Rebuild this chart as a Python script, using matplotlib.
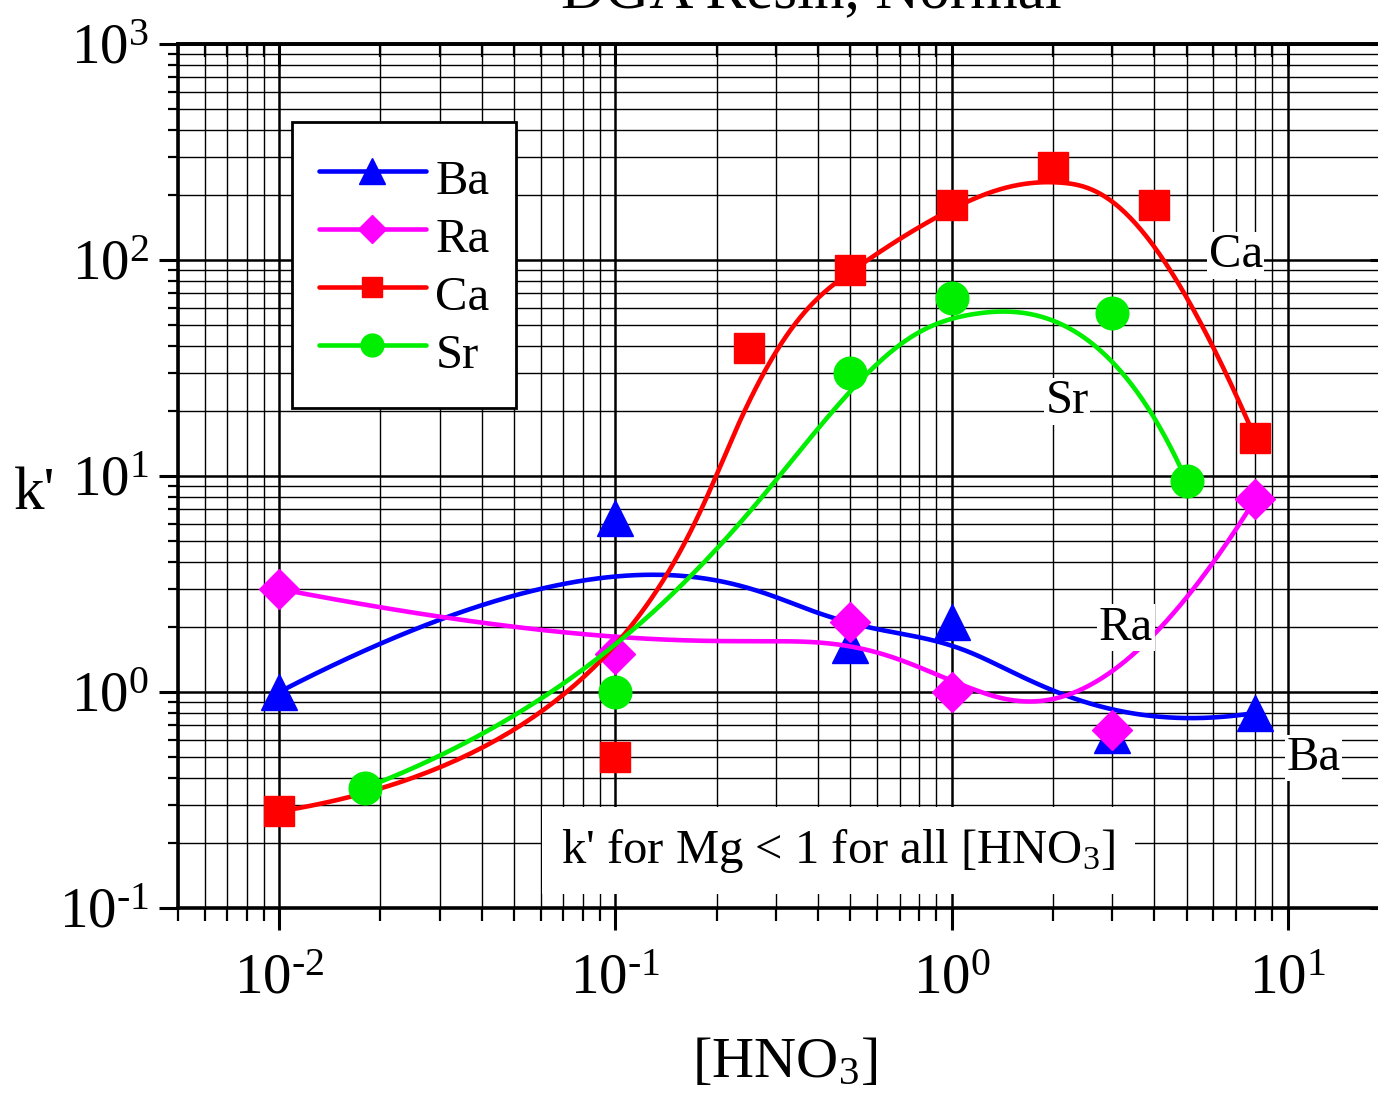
import numpy as np
import matplotlib
matplotlib.use("Agg")
import matplotlib.pyplot as plt
from matplotlib.ticker import LogLocator, NullFormatter, FuncFormatter
from matplotlib.legend_handler import HandlerTuple

plt.rcParams["font.family"] = ["Liberation Serif", "DejaVu Serif"]
plt.rcParams["mathtext.fontset"] = "custom"
plt.rcParams["mathtext.rm"] = "Liberation Serif"
plt.rcParams["mathtext.it"] = "Liberation Serif:italic"
plt.rcParams["mathtext.bf"] = "Liberation Serif:bold"

# ---- data: capacity factor k' versus nitric acid concentration ----
hno3_ba = [0.01, 0.1, 0.5, 1.0, 3.0, 8.0]
k_ba = [1.0, 6.4, 1.65, 2.1, 0.63, 0.8]

hno3_ra = [0.01, 0.1, 0.5, 1.0, 3.0, 8.0]
k_ra = [3.0, 1.5, 2.1, 1.0, 0.67, 7.8]

hno3_ca = [0.01, 0.1, 0.25, 0.5, 1.0, 2.0, 4.0, 8.0]
k_ca = [0.28, 0.5, 39.0, 90.0, 180.0, 270.0, 180.0, 15.0]

hno3_sr = [0.018, 0.1, 0.5, 1.0, 3.0, 5.0]
k_sr = [0.36, 1.0, 30.0, 67.0, 57.0, 9.5]

series_names = ["Ba", "Ra", "Ca", "Sr"]


def bspline_loglog(x, y, degree=3, n=500):
    """Clamped uniform B-spline using the points as control points (log-log space)."""
    P = np.column_stack([np.log10(x), np.log10(y)])
    m = len(P)
    k = min(degree, m - 1)
    span = m - k
    knots = np.concatenate([np.zeros(k + 1), np.arange(1, span), np.full(k + 1, span)]).astype(float)
    t = np.linspace(0, span, n)
    N = np.zeros((n, len(knots) - 1))
    for i in range(len(knots) - 1):
        N[:, i] = (knots[i] <= t) & (t < knots[i + 1])
    N[t >= knots[-1], m - 1] = 1.0
    for p in range(1, k + 1):
        Nn = np.zeros((n, len(knots) - 1 - p))
        for i in range(len(knots) - 1 - p):
            d1 = knots[i + p] - knots[i]
            d2 = knots[i + p + 1] - knots[i + 1]
            a = (t - knots[i]) / d1 * N[:, i] if d1 > 0 else 0.0
            b = (knots[i + p + 1] - t) / d2 * N[:, i + 1] if d2 > 0 else 0.0
            Nn[:, i] = a + b
        N = Nn
    C = N @ P
    return 10 ** C[:, 0], 10 ** C[:, 1]


def power_label(v, pos):
    e = int(round(np.log10(v)))
    s = str(e).replace("-", "\u2010")
    return "$\\mathregular{10^{%s}}$" % s


W, H = 1378, 1098
fig = plt.figure(figsize=(W / 100, H / 100), dpi=100)
ax = fig.add_axes([178 / W, 1 - 908 / H, (1389 - 178) / W, (908 - 44) / H])
ax.set_xscale("log")
ax.set_yscale("log")
ax.set_xlim(0.005, 20)
ax.set_ylim(0.1, 1000)

for axis in (ax.xaxis, ax.yaxis):
    axis.set_major_locator(LogLocator(base=10, numticks=20))
    axis.set_minor_locator(LogLocator(base=10, subs=np.arange(2, 10), numticks=20))
    axis.set_minor_formatter(NullFormatter())
    axis.set_major_formatter(FuncFormatter(power_label))

ax.set_axisbelow(True)
ax.grid(which="major", color="black", lw=1.8)
ax.grid(which="minor", color="black", lw=1.0)

for s in ax.spines.values():
    s.set_linewidth(2.6)

ax.tick_params(axis="x", which="major", direction="out", length=16, width=2.2,
               labelsize=41, pad=17, top=False)
ax.tick_params(axis="x", which="minor", direction="out", length=9, width=1.6, top=False)
ax.tick_params(axis="y", which="major", direction="out", length=14, width=2.2,
               labelsize=41, pad=7, right=False)
ax.tick_params(axis="y", which="minor", direction="out", length=7, width=1.6, right=False)

top = ax.secondary_xaxis("top")
top.xaxis.set_major_locator(LogLocator(base=10, numticks=20))
top.xaxis.set_minor_locator(LogLocator(base=10, subs=np.arange(2, 10), numticks=20))
top.tick_params(which="major", direction="in", length=16, width=2.2, labeltop=False)
top.tick_params(which="minor", direction="in", length=9, width=1.6)
right = ax.secondary_yaxis("right")
right.yaxis.set_major_locator(LogLocator(base=10, numticks=20))
right.yaxis.set_minor_locator(LogLocator(base=10, subs=np.arange(2, 10), numticks=20))
right.tick_params(which="major", direction="in", length=14, width=2.2, labelright=False)
right.tick_params(which="minor", direction="in", length=7, width=1.6)
for sec in (top, right):
    for s in sec.spines.values():
        s.set_linewidth(2.6)

styles = {
    "Ba": dict(color="#0000ff", marker="^", ms=26),
    "Ra": dict(color="#ff00ff", marker="D", ms=20),
    "Ca": dict(color="#ff0000", marker="s", ms=21.5),
    "Sr": dict(color="#00ee00", marker="o", ms=23.5),
}
data = {"Ba": (hno3_ba, k_ba), "Ra": (hno3_ra, k_ra), "Ca": (hno3_ca, k_ca), "Sr": (hno3_sr, k_sr)}

handles = []
for i, name in enumerate(series_names):
    x, y = data[name]
    st = styles[name]
    cx, cy = bspline_loglog(x, y)
    ln, = ax.plot(cx, cy, color=st["color"], lw=3.3, zorder=3 + 2 * i, solid_capstyle="round")
    mk, = ax.plot(x, y, ls="none", marker=st["marker"], ms=st["ms"], color=st["color"],
                  mec=st["color"], zorder=4 + 2 * i)
    handles.append((ln, mk))

leg = ax.legend(handles, series_names, loc="upper left",
                bbox_to_anchor=(292 / W, 1 - 122 / H), bbox_transform=fig.transFigure,
                fontsize=35, frameon=True, fancybox=False, edgecolor="black",
                framealpha=1, markerscale=0.7, handlelength=2.2, handletextpad=0.2,
                handleheight=1.46, labelspacing=0.0, borderpad=0.55, borderaxespad=0,
                handler_map={tuple: HandlerTuple(ndivide=1, pad=0)})
leg.get_frame().set_linewidth(2.0)
leg.set_zorder(20)

label_box = dict(facecolor="white", edgecolor="none", pad=1)
ax.text(7.0, 105, "Ca", fontsize=35, ha="center", va="center", bbox=label_box, zorder=15)
ax.text(2.21, 22.2, "Sr", fontsize=35, ha="center", va="center", bbox=label_box, zorder=15)
ax.text(3.3, 1.98, "Ra", fontsize=35, ha="center", va="center", bbox=label_box, zorder=15)
ax.text(11.95, 0.495, "Ba", fontsize=35, ha="center", va="center", bbox=label_box, zorder=15)
ax.text(0.461, 0.184, "k' for Mg < 1 for all [HNO$_\\mathregular{3}$]", fontsize=35,
        ha="center", va="center", zorder=15,
        bbox=dict(facecolor="white", edgecolor="none", pad=14))

fig.text(811 / W, 1 - 8 / H, "DGA Resin, Normal", fontsize=44, ha="center", va="baseline")
fig.text(785 / W, 1 - 1077 / H, "[HNO$_\\mathregular{3}$]", fontsize=42, ha="center", va="baseline")
fig.text(35 / W, 1 - 509 / H, "k'", fontsize=44, ha="center", va="baseline")

fig.savefig("out.png", dpi=100)
